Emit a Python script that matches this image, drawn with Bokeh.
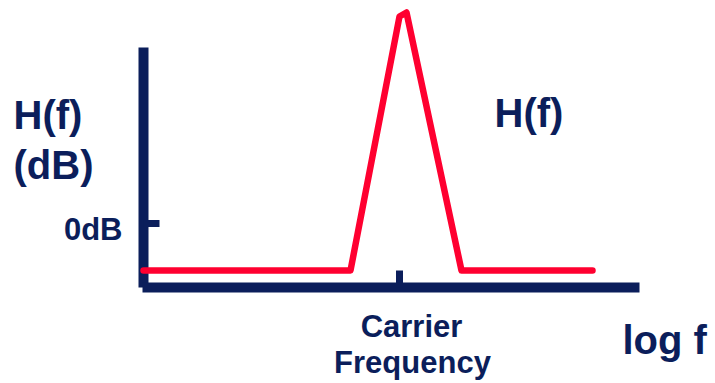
from bokeh.plotting import figure
from bokeh.models import Range1d, Label
from bokeh.core.properties import value
from bokeh.embed import file_html
from bokeh.resources import INLINE

NAVY = "#0B1E5B"
RED = "#FF0030"
FONT = "Liberation Sans"

# Response curve: log-frequency (relative to carrier) and relative gain (0 = 0 dB tick)
log_freq = [-256, -49, 0, 7, 62, 193]
gain = [-47, -47, 207, 211, -47, -47]

# axis extents (data units)
x_axis_bounds = [-257, 240]
y_axis_bounds = [-64, 176]

y_ticks = [0]
y_tick_labels = ["0dB"]
x_ticks = [0]
x_tick_labels = ["Carrier", "Frequency"]

p = figure(width=715, height=383, output_backend="svg", toolbar_location=None,
           x_range=Range1d(-399, 316), y_range=Range1d(-160, 223),
           min_border=0, outline_line_color=None,
           background_fill_color="white", border_fill_color="white")
p.grid.visible = False
p.axis.visible = False

x0 = x_axis_bounds[0] + 1   # x position of the vertical axis
y0 = y_axis_bounds[0]       # y position of the horizontal axis

# axes
p.segment(x0=[x0], y0=[y_axis_bounds[0]], x1=[x0], y1=[y_axis_bounds[1]],
          line_color=NAVY, line_width=10, line_cap="butt")
p.segment(x0=[x_axis_bounds[0]], y0=[y0], x1=[x_axis_bounds[1]], y1=[y0],
          line_color=NAVY, line_width=10, line_cap="butt")

# ticks (pointing inward)
p.segment(x0=[x0] * len(y_ticks), y0=y_ticks, x1=[x0 + 16] * len(y_ticks), y1=y_ticks,
          line_color=NAVY, line_width=7, line_cap="butt")
p.segment(x0=x_ticks, y0=[y0] * len(x_ticks), x1=x_ticks, y1=[y0 + 17] * len(x_ticks),
          line_color=NAVY, line_width=7, line_cap="butt")

# response
p.line(log_freq, gain, line_color=RED, line_width=6.5,
       line_join="round", line_cap="round")

# tick labels
p.text(x=[x0 - 21] * len(y_ticks), y=[t - 6 for t in y_ticks], text=y_tick_labels,
       text_font=value(FONT), text_font_style="bold", text_font_size="31px",
       text_color=NAVY, text_align="right", text_baseline="alphabetic")
p.text(x=[x_ticks[0] + 12, x_ticks[0] + 13], y=[y0 - 39, y0 - 75], text=x_tick_labels,
       text_font=value(FONT), text_font_style="bold", text_font_size="31px",
       text_color=NAVY, text_align="center", text_baseline="alphabetic")

def lab(txt, x, y, size, align="left"):
    p.add_layout(Label(x=x, y=y, text=txt, text_font=FONT, text_font_style="bold",
                       text_font_size=size, text_color=NAVY, text_align=align,
                       text_baseline="alphabetic"))

lab("H(f)", -386, 109, "40px")
lab("(dB)", -386, 59, "40px")
lab("H(f)", 95, 111, "40px")
lab("log f", 223, -116, "40px")

open("out.html", "w").write(file_html(p, INLINE))
